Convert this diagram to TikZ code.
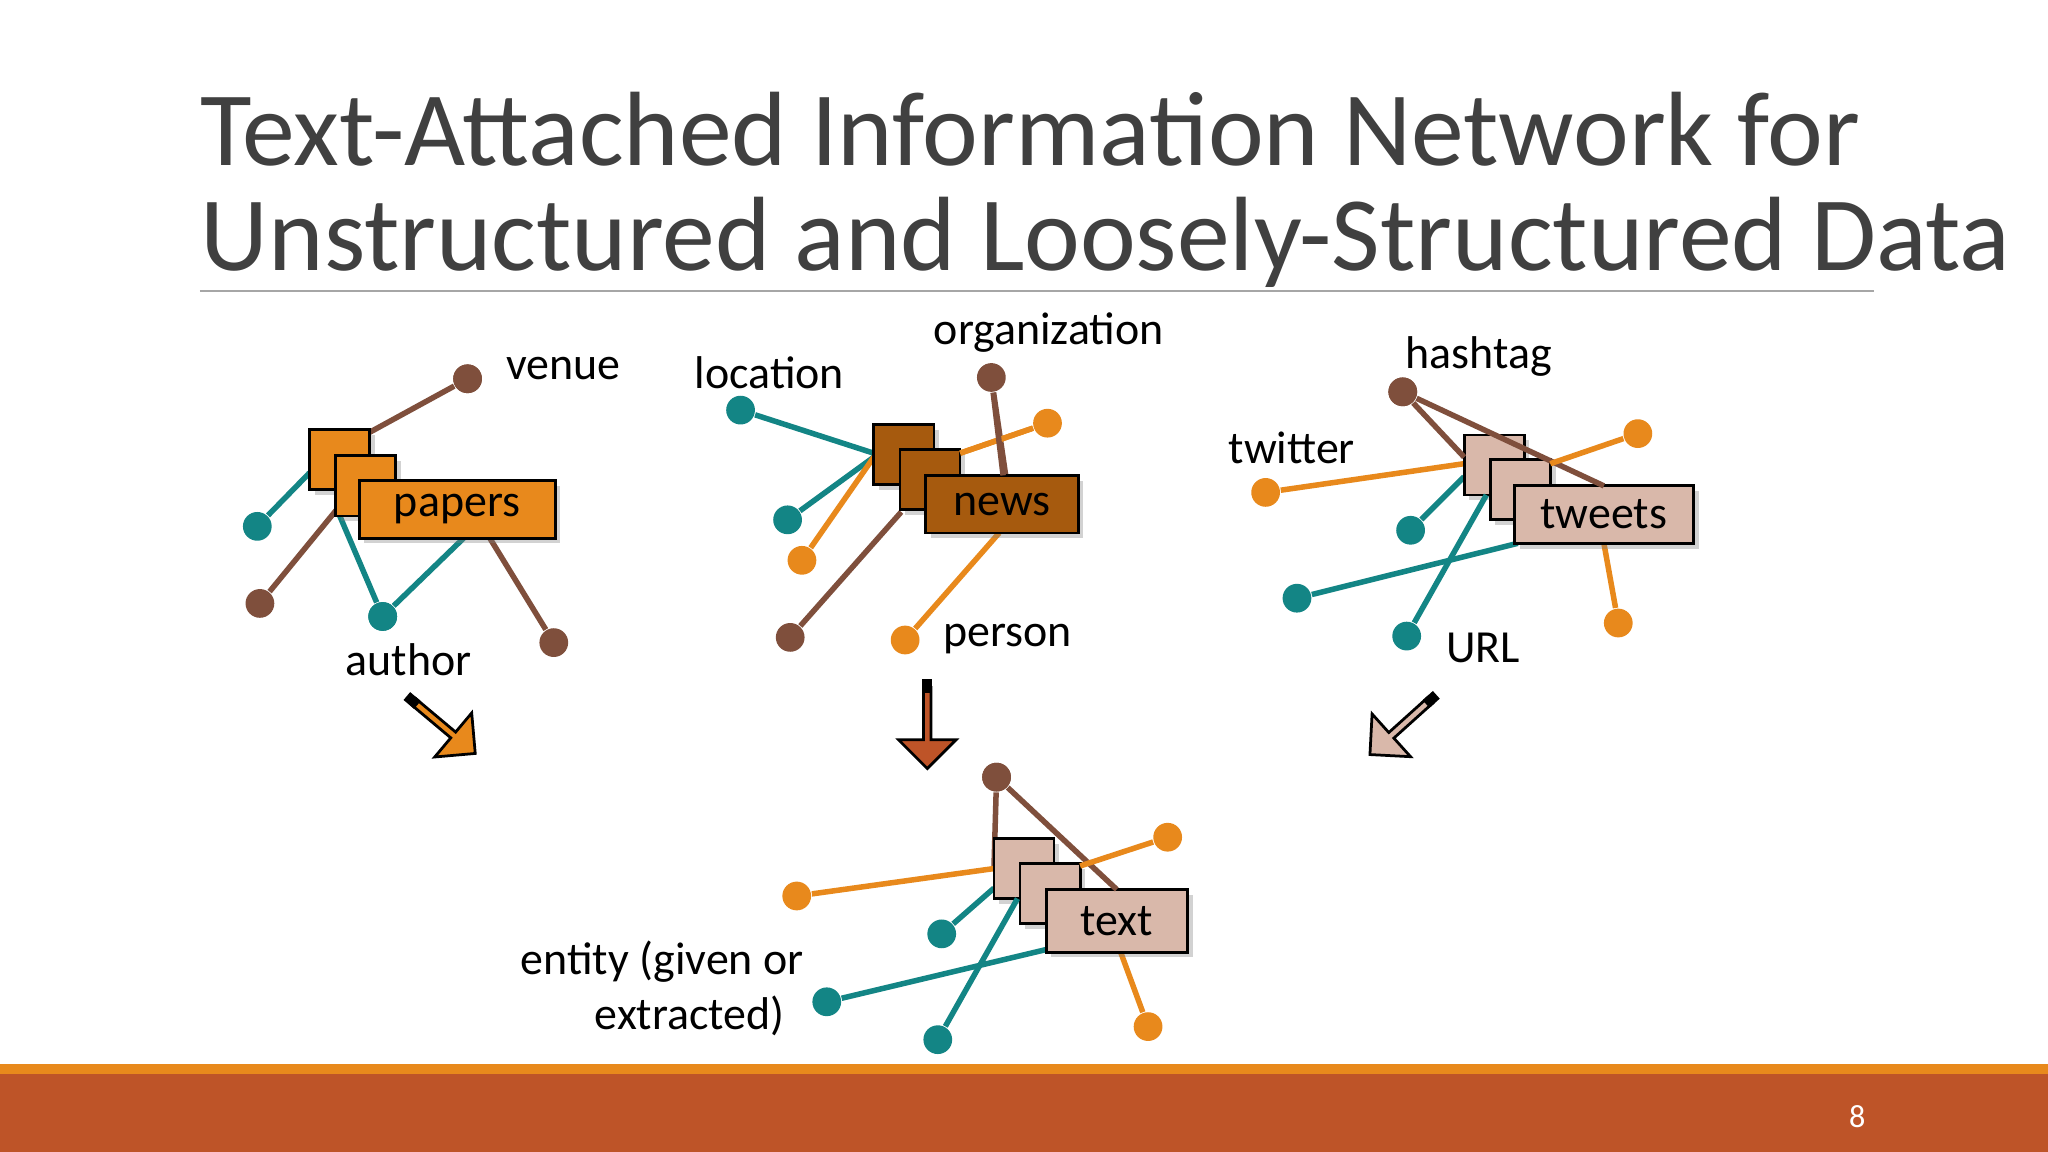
\documentclass[tikz,border=0pt]{standalone}
\usepackage{fontspec}
\setmainfont{Carlito}
\usetikzlibrary{shapes.arrows,shadows}
\definecolor{teal1}{HTML}{138585}
\definecolor{brown1}{HTML}{7F4F3C}
\definecolor{orange1}{HTML}{E8891C}
\definecolor{news1}{HTML}{A65A0E}
\definecolor{pink1}{HTML}{D9B8AA}
\definecolor{rust}{HTML}{BE5428}
\definecolor{titlec}{HTML}{404040}
\begin{document}
\begin{tikzpicture}[x=0.01cm,y=-0.01cm,
  dot/.style={circle,inner sep=0pt,minimum size=0.22cm,fill=#1},
  ln/.style={line width=1.2pt,draw=#1},
  sq/.style={draw=black,line width=0.6pt,fill=#1,inner sep=0pt,minimum width=0.46cm,minimum height=0.46cm,drop shadow={shadow xshift=0.04cm,shadow yshift=-0.04cm,opacity=0.35}},
  box/.style={draw=black,line width=0.6pt,fill=#1,inner sep=0pt,font=\fontsize{10}{12}\selectfont},
  lab/.style={font=\fontsize{10}{12}\selectfont,text=black},
  arr/.style={single arrow,draw=black,line width=0.6pt,fill=#1,minimum height=0.62cm,minimum width=0.44cm,single arrow head extend=0.07cm,inner sep=0pt}]
\useasboundingbox (0,0) rectangle (1568,882);
\fill[white] (0,0) rectangle (1568,882);
% title
\node[anchor=base west,inner sep=0pt,text=titlec,font=\fontsize{23}{28}\selectfont] (t1) at (153,127) {Text-Attached Information Network for};
\node[anchor=base west,inner sep=0pt,text=titlec,font=\fontsize{23}{28}\selectfont] (t2) at (153,207) {Unstructured and Loosely-Structured Data};
\draw[gray!70,line width=0.5pt] (153,223) -- (1435,223);
% bottom bar
\fill[orange1] (0,815) rectangle (1568,822);
\fill[rust] (0,822) rectangle (1568,882);
\node[text=white,font=\fontsize{7}{8}\selectfont] (pg) at (1422,855) {8};

% ===== group 1 papers
\node[dot=brown1] (v) at (358,290) {};
\node[dot=teal1] (g1a) at (197,403) {};
\node[dot=brown1] (g1b) at (199,462) {};
\node[dot=teal1] (au) at (293,472) {};
\node[dot=brown1] (g1c) at (424,492) {};
\draw[ln=brown1] (v) -- (283,331);
\draw[ln=teal1] (g1a) -- (237,362);
\draw[ln=brown1] (g1b) -- (262,385);
\draw[ln=teal1] (258,390) -- (au) -- (355,412);
\draw[ln=brown1] (g1c) -- (375,412);
\node[sq=orange1] (p1) at (260,352) {};
\node[sq=orange1] (p2) at (280,372) {};
\node[box=orange1,minimum width=1.5cm,minimum height=0.44cm,drop shadow={shadow xshift=0.04cm,shadow yshift=-0.04cm,opacity=0.35}] (pa) at (350,390) {papers};
\node[dot=brown1] at (v) {};
\node[dot=teal1] at (au) {};
\node[lab,anchor=west] (lv) at (375,282) {venue};
\node[lab] (lau) at (313,505) {author};

% ===== group 2 news
\node[dot=teal1] (loc) at (567,314) {};
\node[dot=teal1] (g2a) at (603,398) {};
\node[dot=orange1] (g2b) at (614,429) {};
\node[dot=brown1] (org) at (759,289) {};
\node[dot=orange1] (g2c) at (802,324) {};
\node[dot=brown1] (g2d) at (605,488) {};
\node[dot=orange1] (per) at (693,490) {};
\draw[ln=teal1] (loc) -- (669,347);
\draw[ln=teal1] (g2a) -- (669,350);
\draw[ln=orange1] (g2b) -- (669,350);
\draw[ln=brown1] (org) -- (770,364);
\draw[ln=orange1] (g2c) -- (735,347);
\draw[ln=brown1] (g2d) -- (690,392);
\draw[ln=orange1] (per) -- (765,408);
\node[sq=news1] (n1) at (692,348) {};
\node[sq=news1] (n2) at (712,367) {};
\node[box=news1,minimum width=1.17cm,minimum height=0.44cm,drop shadow={shadow xshift=0.04cm,shadow yshift=-0.04cm,opacity=0.35}] (nw) at (767,386) {news};
\draw[ln=orange1] (g2c) -- (735,347);
\draw[ln=brown1] (org) -- (768,364);
\node[lab] (lloc) at (589,285) {location};
\node[lab] (lorg) at (803,255) {organization};
\node[lab,anchor=west] (lper) at (710,489) {person};

% ===== group 3 tweets
\node[dot=brown1] (hash) at (1074,300) {};
\node[dot=orange1] (tw) at (969,377) {};
\node[dot=orange1] (g3a) at (1254,332) {};
\node[dot=teal1] (g3b) at (1080,406) {};
\node[dot=teal1] (g3c) at (993,458) {};
\node[dot=teal1] (url) at (1077,487) {};
\node[dot=orange1] (g3d) at (1239,477) {};
\draw[ln=orange1] (tw) -- (1121,355);
\draw[ln=teal1] (g3b) -- (1121,365);
\draw[ln=teal1] (g3c) -- (1162,416);
\draw[ln=orange1] (g3d) -- (1228,416);
\node[sq=pink1] (w1) at (1144,356) {};
\node[sq=pink1] (w2) at (1164,375) {};
\node[box=pink1,minimum width=1.37cm,minimum height=0.44cm,drop shadow={shadow xshift=0.04cm,shadow yshift=-0.04cm,opacity=0.35}] (twt) at (1228,394) {tweets};
\draw[ln=brown1] (hash) -- (1121,350);
\draw[ln=brown1] (hash) -- (1228,372);
\draw[ln=orange1] (g3a) -- (1187,355);
\draw[ln=teal1] (url) -- (1138,379);
\node[dot=brown1] at (hash) {};
\node[lab] (lhash) at (1132,273) {hashtag};
\node[lab] (ltw) at (989,343) {twitter};
\node[lab,anchor=west] (lurl) at (1095,496) {URL};

% ===== arrows
\node[arr=orange1,rotate=-40] (a1) at (339,556) {};
\draw[line width=3pt] (a1.before tail) -- (a1.after tail);
\node[arr=rust,rotate=-90] (a2) at (710,556) {};
\draw[line width=3pt] (a2.before tail) -- (a2.after tail);
\node[arr=pink1,rotate=-138] (a3) at (1073,556) {};
\draw[line width=3pt] (a3.before tail) -- (a3.after tail);

% ===== group 4 text
\node[dot=brown1] (e0) at (763,595) {};
\node[dot=orange1] (e1) at (610,686) {};
\node[dot=orange1] (e2) at (894,641) {};
\node[dot=teal1] (e3) at (721,715) {};
\node[dot=teal1] (e4) at (633,767) {};
\node[dot=teal1] (e5) at (718,796) {};
\node[dot=orange1] (e6) at (879,786) {};
\draw[ln=brown1] (e0) -- (761,665);
\draw[ln=orange1] (e1) -- (761,665);
\draw[ln=teal1] (e3) -- (761,680);
\draw[ln=teal1] (e4) -- (801,727);
\draw[ln=orange1] (e6) -- (858,729);
\node[sq=pink1] (x1) at (784,665) {};
\node[sq=pink1] (x2) at (804,684) {};
\node[box=pink1,minimum width=1.08cm,minimum height=0.48cm,drop shadow={shadow xshift=0.04cm,shadow yshift=-0.04cm,opacity=0.35}] (txt) at (855,705) {text};
\draw[ln=brown1] (e0) -- (855,681);
\draw[ln=orange1] (e2) -- (827,663);
\draw[ln=teal1] (e5) -- (779,688);
\node[dot=brown1] at (e0) {};
\node[lab,align=center] (lent) at (507,757) {entity (given or\\\hspace*{1.2em}extracted)};
\end{tikzpicture}
\end{document}
